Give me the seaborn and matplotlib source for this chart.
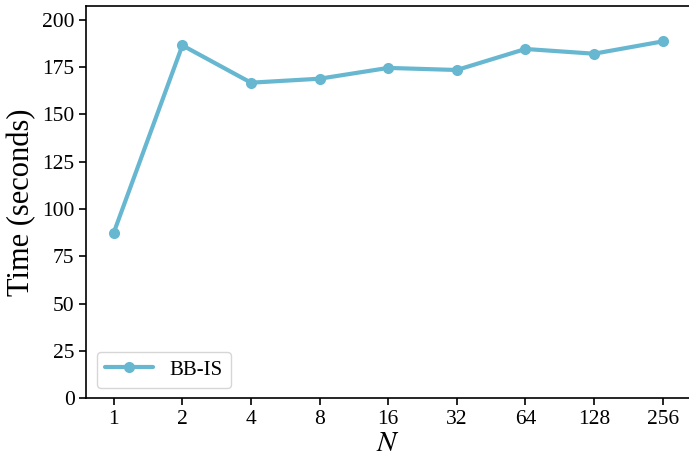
import matplotlib
matplotlib.use("Agg")
import matplotlib.pyplot as plt
import seaborn as sns
import pandas as pd

# Runtime of BB-IS as the number of samples N grows
n_labels = ["1", "2", "4", "8", "16", "32", "64", "128", "256"]
times = [87.5, 186.4, 166.7, 168.8, 174.5, 173.4, 184.5, 182.0, 188.5]
series_name = "BB-IS"

sns.set_style("ticks")
plt.rcParams["font.family"] = ["Liberation Serif", "DejaVu Serif"]
plt.rcParams["mathtext.fontset"] = "stix"
plt.rcParams["text.color"] = "black"
plt.rcParams["axes.labelcolor"] = "black"

df = pd.DataFrame({"N": n_labels, "Time": times, "method": series_name})

fig = plt.figure(figsize=(6.89, 4.57), dpi=100)
ax = fig.add_axes([0.1253, 0.1284, 0.8763, 0.8591])

sns.lineplot(data=df, x="N", y="Time", hue="method", palette=["#67b7d1"],
             marker="o", markersize=8, markeredgewidth=0, linewidth=3,
             sort=False, ax=ax)

ax.set_xlim(-0.4, 8.4)
ax.set_ylim(0, max(times) * 1.1)
ax.set_yticks(range(0, 201, 25))
ax.set_xlabel("$N$", fontsize=21, labelpad=1)
ax.set_ylabel("Time (seconds)", fontsize=22, labelpad=4)
ax.tick_params(labelsize=15.5, length=5, width=1.2, colors="black")
for s in ax.spines.values():
    s.set_linewidth(1.2)
    s.set_color("black")
ax.spines["right"].set_visible(False)

leg = ax.legend(loc="lower left", fontsize=15, handlelength=2.3, frameon=True)
leg.get_frame().set_edgecolor("#cccccc")

fig.savefig("out.png", dpi=100)
